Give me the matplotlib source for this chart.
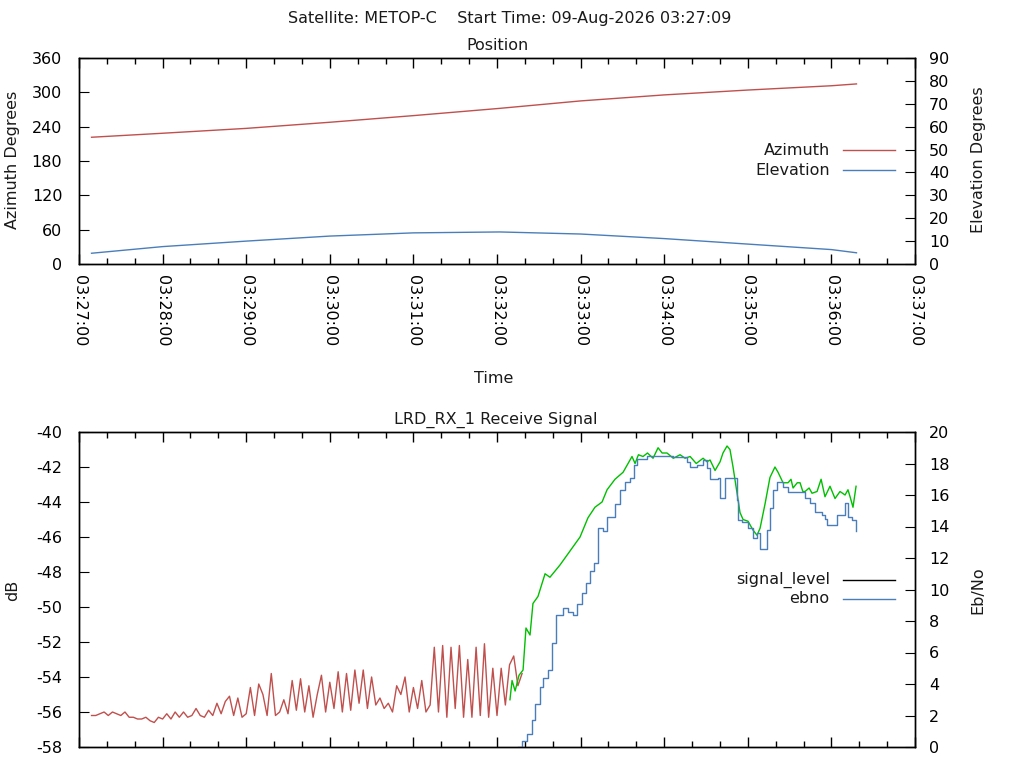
import matplotlib
matplotlib.use("Agg")
import matplotlib.pyplot as plt
import matplotlib.dates as mdates
import pandas as pd
import numpy as np

# --- datos ---
inicio = pd.Timestamp("2026-08-09 03:27:00")

# posicion (segundos desde 03:27:00)
pos_seg = [9, 60, 120, 180, 240, 302, 360, 420, 480, 540, 558]
azimut = [221.5, 228.5, 237.0, 247.7, 259.3, 272.0, 285.0, 295.5, 304.0, 311.5, 314.7]
elevacion = [4.7, 7.6, 10.0, 12.2, 13.6, 14.0, 13.1, 11.1, 8.7, 6.3, 4.9]

# nivel de senal sin enganche (muestras cada 3 s desde t=9 s)
senal_roja_inicio = 9
senal_roja_paso = 3
senal_roja = [
    -56.2, -56.2, -56.1, -56.0, -56.2, -56.0, -56.1, -56.2, -56.0, -56.3,
    -56.3, -56.4, -56.4, -56.3, -56.5, -56.6, -56.3, -56.4, -56.1, -56.4,
    -56.0, -56.3, -56.0, -56.3, -56.2, -55.8, -56.2, -56.3, -55.9, -56.2,
    -55.5, -56.1, -55.4, -55.1, -56.2, -55.2, -56.3, -56.1, -54.6, -56.2,
    -54.4, -55.0, -56.2, -53.8, -56.2, -56.0, -55.3, -56.1, -54.2, -55.9,
    -54.1, -56.0, -54.5, -56.3, -55.0, -53.9, -56.0, -54.3, -55.8, -53.7,
    -56.0, -53.8, -55.9, -53.6, -55.5, -53.6, -55.8, -54.0, -55.6, -55.2,
    -55.8, -55.5, -56.0, -54.5, -55.0, -54.0, -56.0, -54.6, -55.8, -54.2,
    -56.0, -55.6, -52.3, -56.0, -52.2, -56.3, -52.3, -55.8, -52.2, -56.3,
    -53.0, -56.3, -52.3, -56.2, -52.1, -56.3, -53.5, -56.2, -53.5, -55.6,
    -53.3, -52.8, -54.5, -53.8,
]

# nivel de senal con enganche
senal_verde_seg = [
    309.3, 310.8, 313.0, 315.8, 318.7, 320.8, 323.7, 325.8, 329.4, 334.5,
    338.0, 345.2, 352.4, 359.6, 365.3, 370.3, 375.4, 379.0, 384.7, 390.5,
    396.9, 399.1, 401.5, 404.8, 408.0, 412.0, 415.6, 418.5, 422.0, 426.5,
    431.4, 435.0, 438.6, 443.0, 447.9, 450.7, 452.9, 456.5,
    460.1, 462.2, 465.1, 467.2, 469.4, 472.3, 474.4, 476.6, 480.2, 483.7,
    486.6, 488.8, 492.4, 495.9, 499.5, 501.7, 505.3, 508.9, 511.0, 512.5,
    515.5, 517.5, 519.5, 521.1, 524.0, 526.1, 529.7, 532.6, 535.4, 539.0,
    542.6, 546.2, 549.8, 551.9, 553.4, 555.5, 557.7,
]
senal_verde = [
    -55.3, -54.2, -54.8, -53.9, -53.6, -51.2, -51.6, -49.8, -49.4, -48.1,
    -48.3, -47.6, -46.8, -46.0, -44.9, -44.3, -44.0, -43.3, -42.7, -42.3,
    -41.4, -41.8, -41.3, -41.4, -41.2, -41.5, -40.9, -41.2, -41.2, -41.5,
    -41.3, -41.5, -41.4, -41.8, -41.5, -41.7, -41.6, -42.2,
    -41.7, -41.2, -40.8, -41.0, -42.0, -43.5, -44.6, -45.0, -45.1, -45.6,
    -45.9, -45.5, -44.1, -42.6, -42.0, -42.3, -42.9, -42.9, -42.7, -43.2,
    -42.9, -42.9, -43.4, -43.4, -43.2, -43.5, -43.4, -42.7, -43.7, -43.1,
    -43.8, -43.4, -43.6, -43.3, -43.7, -44.3, -43.1,
]

# Eb/No
ebno_seg = [
    315.1, 318.0, 321.5, 325.1, 327.3, 330.9, 333.0, 336.6, 339.5, 342.3,
    347.4, 351.0, 354.6, 357.4, 361.0, 363.9, 366.8, 369.6, 372.5, 376.1,
    379.0, 384.7, 388.3, 391.9, 395.5, 398.3, 400.5, 407.7, 417.0, 426.3,
    436.4, 438.6, 443.6, 447.9, 450.7, 452.9, 458.6, 460.1, 463.6, 469.4,
    472.3, 473.0, 475.9, 480.2, 483.7, 486.6, 488.8, 493.8, 495.9, 498.1,
    501.0, 505.3, 508.9, 521.1, 524.7, 528.2, 533.3, 535.4, 536.9, 544.0,
    549.8, 551.9, 554.8, 557.7,
]
ebno = [
    0.0, 0.4, 0.8, 1.7, 2.7, 3.8, 4.4, 4.9, 6.6, 8.4,
    8.8, 8.6, 8.4, 9.1, 9.8, 10.4, 11.2, 11.7, 13.9, 13.7,
    14.6, 15.4, 16.3, 16.8, 17.1, 17.9, 18.3, 18.5, 18.5, 18.4,
    18.1, 17.8, 17.9, 18.2, 17.7, 17.0, 17.1, 15.8, 17.1, 17.1,
    15.7, 14.4, 14.3, 13.9, 13.3, 13.6, 12.6, 13.8, 15.2, 16.3,
    16.8, 16.5, 16.2, 15.8, 15.5, 14.9, 14.7, 14.5, 14.1, 14.7,
    15.5, 14.6, 14.4, 13.7,
]

ROJO = "#c0504d"
AZUL = "#4a7ebb"
VERDE = "#00c000"
TXT = "#1a1a1a"


def a_tiempo(segundos):
    return inicio + pd.to_timedelta(np.asarray(segundos, dtype=float), unit="s")


t_pos = a_tiempo(pos_seg)
t_roja = a_tiempo(senal_roja_inicio + senal_roja_paso * np.arange(len(senal_roja)))
t_verde = a_tiempo(senal_verde_seg)
t_ebno = a_tiempo(ebno_seg)

plt.rcParams["font.family"] = ["DejaVu Sans"]
plt.rcParams["font.size"] = 11.5
plt.rcParams["text.color"] = TXT
plt.rcParams["axes.linewidth"] = 1.0
plt.rcParams["axes.unicode_minus"] = False

fig = plt.figure(figsize=(10.24, 7.68), dpi=100)
ax1 = fig.add_axes([79 / 1024, 1 - 264 / 768, 836 / 1024, 206 / 768])
ax2 = fig.add_axes([79 / 1024, 1 - 747 / 768, 836 / 1024, 315 / 768])


def estilo_x(ax, etiquetas):
    ax.set_xlim(inicio, inicio + pd.Timedelta(minutes=10))
    ax.xaxis.set_major_locator(mdates.MinuteLocator())
    ax.xaxis.set_minor_locator(mdates.SecondLocator(bysecond=[20, 40]))
    ax.xaxis.set_major_formatter(mdates.DateFormatter("%H:%M:%S"))
    ax.tick_params(axis="x", which="major", direction="in", length=7, width=1,
                   top=True, pad=8, labelbottom=etiquetas)
    ax.tick_params(axis="x", which="minor", direction="in", length=4, width=1,
                   top=True)
    if etiquetas:
        for lab in ax.get_xticklabels():
            lab.set_rotation(270)
            lab.set_ha("center")
            lab.set_va("top")


# --- posicion ---
ax1.plot(t_pos, azimut, color=ROJO, lw=1.0)
ax1.set_ylim(0, 360)
ax1.set_yticks(range(0, 361, 60))
ax1.tick_params(axis="y", direction="in", length=7, pad=12)
estilo_x(ax1, True)
ax1b = ax1.twinx()
ax1b.plot(t_pos, elevacion, color=AZUL, lw=1.0)
ax1b.set_ylim(0, 90)
ax1b.set_yticks(range(0, 91, 10))
ax1b.tick_params(axis="y", direction="in", length=7, pad=10)
estilo_x(ax1b, True)

ax1.text(0.898, 0.553, "Azimuth", ha="right", va="center", transform=ax1.transAxes)
ax1.plot([0.914, 0.976], [0.553, 0.553], color=ROJO, lw=1.0, transform=ax1.transAxes)
ax1.text(0.898, 0.456, "Elevation", ha="right", va="center", transform=ax1.transAxes)
ax1.plot([0.914, 0.976], [0.456, 0.456], color=AZUL, lw=1.0, transform=ax1.transAxes)

# --- senal ---
ax2.plot(t_roja, senal_roja, color=ROJO, lw=1.0)
ax2.plot(t_verde, senal_verde, color=VERDE, lw=1.0)
ax2.set_ylim(-58, -40)
ax2.set_yticks(range(-58, -39, 2))
ax2.tick_params(axis="y", direction="in", length=7, pad=12)
estilo_x(ax2, False)
ax2b = ax2.twinx()
ax2b.plot(t_ebno, ebno, color=AZUL, lw=1.0, drawstyle="steps-post")
ax2b.set_ylim(0, 20)
ax2b.set_yticks(range(0, 21, 2))
ax2b.tick_params(axis="y", direction="in", length=7, pad=10)
estilo_x(ax2b, False)

ax2.text(0.898, 0.530, "signal_level", ha="right", va="center", transform=ax2.transAxes)
ax2.plot([0.914, 0.976], [0.530, 0.530], color="black", lw=1.0, transform=ax2.transAxes)
ax2.text(0.898, 0.470, "ebno", ha="right", va="center", transform=ax2.transAxes)
ax2.plot([0.914, 0.976], [0.470, 0.470], color=AZUL, lw=1.0, transform=ax2.transAxes)

# --- textos ---
fig.text(510 / 1024, 1 - 18 / 768, "Satellite: METOP-C    Start Time: 09-Aug-2026 03:27:09",
         ha="center", va="center")
fig.text(497 / 1024, 1 - 46 / 768, "Position", ha="center", va="center")
fig.text(496 / 1024, 1 - 420 / 768, "LRD_RX_1 Receive Signal", ha="center", va="center")
fig.text(494 / 1024, 1 - 379 / 768, "Time", ha="center", va="center")
fig.text(13 / 1024, 1 - 160 / 768, "Azimuth Degrees", rotation=90, ha="center", va="center")
fig.text(978 / 1024, 1 - 160 / 768, "Elevation Degrees", rotation=90, ha="center", va="center")
fig.text(13 / 1024, 1 - 590 / 768, "dB", rotation=90, ha="center", va="center")
fig.text(978 / 1024, 1 - 590 / 768, "Eb/No", rotation=90, ha="center", va="center")

fig.savefig("out.png", dpi=100)
